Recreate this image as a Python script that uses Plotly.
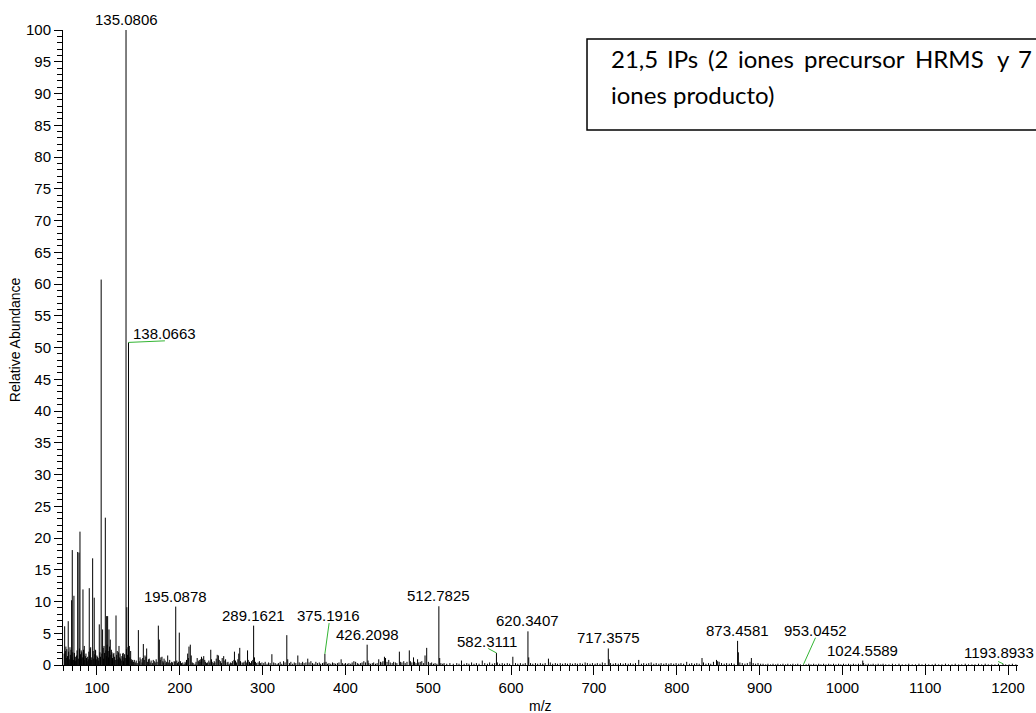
import plotly.graph_objects as go

# ---------------- data ----------------
# labelled / prominent peaks (m/z, relative abundance)
major_mz = [61.0, 62.5, 65.3, 67.4, 69.4, 70.2, 72.2, 73.4, 76.7, 78.3, 79.5, 81.0, 83.1, 84.7,
            86.7, 90.7, 92.4, 94.8, 96.7, 98.4, 100.8, 102.8, 105.07, 106.8, 108.5, 110.1,
            111.7, 112.9, 114.5, 116.1, 118.1, 119.7, 123.0, 124.5, 126.6, 128.6, 131.0,
            132.6, 135.0806, 136.08, 138.0663, 139.1, 140.7, 143.1, 145.1, 150.0, 152.0,
            156.0, 158.0, 160.0, 163.2, 168.0, 174.1, 175.3, 178.5, 181.0, 185.4, 195.0878,
            199.4, 209.5, 211.1, 212.7, 224.4, 227.7, 228.9, 237.4, 246.6, 253.0, 266.0,
            272.4, 281.8, 289.1621, 311.2, 329.2, 342.5, 354.5, 375.1916, 394.8, 426.2098,
            440.2, 447.1, 465.1, 477.1, 482.2, 498.1, 512.7825, 540.1, 565.2, 582.3111,
            602.1, 620.3407, 645.1, 717.3575, 754.1, 830.5, 848.0, 873.4581, 890.1,
            953.0452, 1024.5589, 1193.8933]
major_int = [6.1, 2.9, 6.9, 2.8, 10.2, 18.1, 10.9, 0.6, 17.8, 17.7, 21.0, 2.3, 11.9, 3.0,
             1.8, 12.1, 2.8, 16.8, 10.6, 2.3, 1.3, 6.4, 60.7, 5.6, 3.0, 23.2,
             7.7, 7.7, 5.6, 4.0, 2.0, 1.7, 7.8, 2.2, 3.0, 1.0, 1.8,
             1.2, 100.0, 9.1, 50.8, 3.0, 2.2, 0.8, 0.8, 5.5, 1.2,
             3.3, 1.5, 2.6, 1.0, 0.8, 6.2, 4.0, 1.3, 1.0, 1.5, 9.2,
             5.1, 1.8, 2.9, 3.2, 0.5, 1.0, 1.4, 2.4, 1.5, 1.4, 2.1,
             2.7, 2.3, 6.2, 1.7, 4.7, 1.5, 1.0, 1.75, 0.9, 3.2,
             0.9, 1.3, 2.1, 2.3, 1.2, 2.7, 9.25, 0.7, 0.7, 1.9,
             1.3, 5.3, 1.0, 2.6, 0.8, 1.1, 0.8, 3.8, 1.1,
             0.1, 0.7, 0.2]

# low-level peaks forming the baseline forest
minor_mz = [60.4, 61.8, 62.9, 63.6, 64.5, 65.8, 66.6, 67.9, 68.7, 69.9, 70.8, 71.5, 72.8, 73.9,
            74.6, 75.4, 75.9, 77.5, 78.9, 80.2, 80.8, 81.6, 82.3, 83.7, 84.2, 85.3, 85.9, 87.4,
            88.1, 88.8, 89.6, 90.2, 91.3, 91.8, 93.1, 93.7, 95.4, 96.1, 97.4, 98.0, 99.2, 99.9,
            101.5, 102.1, 103.6, 104.3, 105.9, 107.5, 108.0, 109.2, 110.8, 111.3, 112.3, 113.6,
            114.0, 115.2, 116.8, 117.4, 118.8, 119.2, 120.4, 121.3, 122.1, 123.8, 125.3, 125.9,
            127.4, 128.0, 129.3, 130.1, 131.7, 132.0, 133.4, 134.2, 135.6, 136.9, 137.4, 139.8,
            141.5, 142.2, 144.0,
            146.3, 147.4, 148.6, 151.1, 153.2, 154.4, 155.2, 157.1, 159.1, 161.2, 162.1, 164.3,
            165.4, 166.9, 169.2, 170.3, 171.5, 172.6, 176.4, 177.2, 179.6, 180.1, 182.3, 183.4,
            184.2, 186.6, 187.8, 189.1, 190.2, 191.3, 193.2, 194.1, 196.4, 197.2, 198.3, 200.9,
            202.1, 203.6, 205.2, 206.4, 207.3, 208.1, 210.3, 213.8, 215.1, 216.2, 218.4, 219.6,
            221.0, 222.4, 223.5, 225.3, 226.2, 230.1, 231.2, 232.3, 233.6, 235.1, 236.2, 238.3,
            239.1, 240.4, 241.6, 242.5, 244.0, 245.2, 247.6, 249.3, 250.4, 251.2, 254.4, 255.3,
            257.1, 258.2, 259.6, 261.1, 262.2, 263.5, 265.4, 267.3, 268.4, 270.1, 271.2, 273.3,
            275.2, 276.4, 277.5, 279.1, 280.3, 282.6, 284.2, 285.3, 286.6, 288.1, 290.2, 291.3,
            292.4, 294.5, 296.1, 297.3, 299.2, 301.4, 303.1, 305.3, 307.2, 309.1, 313.4, 315.2,
            317.5, 319.3, 321.2, 323.1, 325.3, 327.1, 330.3, 332.4, 334.1, 336.3, 338.2, 340.1,
            344.2, 346.4, 348.3, 350.1, 352.3, 356.1, 358.3, 360.2, 362.1, 364.3, 366.2, 368.4,
            370.1, 372.3, 374.2, 376.6, 378.4, 380.1, 382.3, 384.4, 386.2, 388.1, 390.3, 392.2,
            396.3, 398.4, 400.1, 402.3, 404.2, 406.4, 408.1, 410.2, 412.3, 414.4, 416.1, 418.3,
            420.1, 422.2, 424.3, 427.3, 428.3, 430.2, 432.4, 434.1, 436.3, 438.2, 442.3, 444.1,
            445.3, 448.4, 450.2, 452.3, 454.1, 456.4, 458.2, 460.3, 462.1, 466.3, 468.2, 470.4,
            472.1, 474.3, 478.4, 480.2, 483.5, 485.2, 487.1, 488.5, 490.3, 492.2, 494.4, 496.1,
            500.2, 502.3, 504.1, 506.3, 508.2, 510.4, 513.8, 515.2, 517.4, 519.1,
            522.3, 526.1, 530.2, 534.4, 537.1, 543.3, 546.5, 549.1, 552.3, 555.2, 558.1, 561.3,
            568.2, 571.4, 574.1, 577.3, 580.2, 583.4, 586.2, 589.3, 592.1, 595.4, 598.2, 605.3,
            608.1, 611.2, 614.4, 617.1, 621.3, 623.5, 626.2, 629.4, 632.1, 635.3, 638.2, 641.1,
            647.3, 650.2, 653.4, 656.1, 659.3, 662.2, 665.4, 668.1, 671.3, 674.2, 677.4, 680.1,
            683.3, 686.2, 689.4, 692.1, 695.3, 698.2, 701.4, 704.1, 707.3, 710.2, 713.4, 718.4,
            720.1, 723.3, 726.2, 729.4, 732.1, 735.3, 738.2, 741.4, 744.1, 747.3, 750.2, 757.3,
            760.1, 763.4, 766.2, 769.1, 772.3, 775.2, 778.4, 781.1, 784.3, 787.2, 790.4, 793.1,
            796.3, 799.2, 802.4, 805.1, 808.3, 812.0, 815.3, 818.1, 821.4, 824.2, 827.1, 832.3,
            835.2, 838.4, 841.1, 844.3, 849.4, 851.2, 854.1, 857.3, 860.2, 863.4, 866.1, 869.3,
            874.4, 876.2, 879.1, 882.3, 885.2, 888.4, 892.3, 895.2, 898.1, 901.3, 904.2, 907.4,
            910.1, 913.3, 916.2, 919.4, 922.1, 925.3, 928.2, 931.4, 934.1, 937.3, 940.2, 943.4,
            946.1, 949.3, 956.2, 959.4, 962.1, 965.3, 968.2, 971.4, 974.1, 977.3, 980.2, 983.4,
            986.1, 989.3, 992.2, 995.4, 998.1, 1001.3, 1004.2, 1007.4, 1010.1, 1013.3, 1016.2,
            1019.4, 1022.1, 1025.6, 1028.3, 1031.2, 1034.4, 1037.1, 1040.3, 1043.2, 1046.4,
            1049.1, 1052.3, 1056.2, 1060.4, 1064.1, 1068.3, 1072.2, 1076.4, 1080.1, 1084.3,
            1088.2, 1092.4, 1096.1, 1100.3, 1104.2, 1108.4, 1112.1, 1116.3, 1120.2, 1124.4,
            1128.1, 1132.3, 1136.2, 1140.4, 1144.1, 1148.3, 1152.2, 1156.4, 1160.1, 1164.3,
            1168.2, 1172.4, 1176.1, 1180.3, 1184.2, 1188.4, 1197.1, 1201.3, 1205.2, 1209.4]
minor_int = [1.8, 2.2, 1.1, 2.5, 1.4, 2.1, 0.9, 1.6, 2.4, 1.2, 2.0, 0.8, 1.9, 1.3,
             0.7, 1.5, 2.3, 1.0, 2.6, 1.7, 0.9, 2.0, 1.2, 2.4, 1.6, 0.8, 1.4, 1.1,
             0.6, 1.3, 0.9, 2.1, 1.5, 2.6, 1.2, 0.8, 2.2, 1.0, 1.7, 2.4, 0.9, 1.5,
             1.1, 0.7, 2.0, 1.3, 1.8, 2.7, 1.0, 1.9, 2.3, 1.4, 3.2, 2.2,
             1.2, 2.9, 1.6, 2.4, 1.1, 0.7, 1.9, 1.3, 0.8, 1.6, 0.9, 2.0,
             1.2, 1.8, 0.7, 1.4, 1.9, 0.6, 1.7, 1.1, 2.5, 1.6, 2.8, 1.2,
             0.9, 0.6, 0.5,
             0.4, 0.7, 0.3, 0.6, 0.9, 0.4, 1.1, 0.8, 1.3, 0.5, 0.9, 0.4,
             0.7, 0.3, 0.6, 0.4, 0.9, 0.5, 0.8, 1.2, 0.6, 0.4, 0.7, 0.3,
             0.5, 0.4, 0.8, 0.3, 0.5, 0.4, 0.6, 0.5, 0.7, 0.3, 0.5, 0.6,
             0.3, 0.4, 0.2, 0.5, 0.3, 0.8, 1.1, 1.5, 0.4, 0.3, 0.2, 0.5,
             1.1, 0.6, 0.8, 0.9, 1.3, 0.8, 0.5, 0.3, 0.4, 0.7, 0.4, 0.9,
             0.5, 0.3, 0.6, 0.4, 1.0, 1.6, 0.8, 0.6, 0.3, 1.1, 0.7, 0.9,
             0.4, 0.5, 0.2, 0.4, 0.3, 0.6, 0.8, 0.7, 0.4, 0.9, 1.8, 0.6,
             0.4, 0.3, 0.5, 0.7, 0.4, 0.8, 0.5, 0.3, 0.6, 0.8, 1.2, 0.5,
             0.3, 0.4, 0.6, 0.3, 0.4, 0.3, 0.5, 0.2, 0.4, 0.3, 0.4, 0.3,
             0.2, 0.3, 0.5, 0.2, 0.6, 0.4, 0.9, 0.3, 0.5, 0.2, 0.4, 0.3,
             0.4, 0.3, 0.5, 0.3, 0.4, 0.4, 0.6, 0.3, 0.2, 0.5, 0.3, 0.4,
             0.2, 0.3, 0.4, 0.5, 0.2, 0.3, 0.2, 0.4, 0.3, 0.2, 0.3, 0.4,
             0.3, 0.2, 0.3, 0.2, 0.3, 0.2, 0.4, 0.6, 0.5, 0.3, 0.2, 0.3,
             0.4, 0.6, 0.4, 0.7, 0.3, 0.2, 0.3, 0.4, 0.2, 0.3, 0.5, 0.4,
             0.6, 1.1, 0.5, 0.8, 0.4, 0.3, 0.5, 0.4, 0.3, 0.5, 0.4, 0.6,
             0.3, 0.5, 0.6, 0.4, 0.5, 0.3, 0.9, 0.4, 0.5, 0.6, 0.3, 1.5,
             0.5, 0.3, 0.4, 0.2, 0.3, 0.2, 1.1, 0.3, 0.2, 0.3,
             0.2, 0.3, 0.2, 0.3, 0.2, 0.2, 0.3, 0.2, 0.4, 0.2, 0.3, 0.2,
             0.3, 0.2, 0.4, 0.2, 0.3, 0.4, 0.2, 0.3, 0.2, 0.3, 0.2, 0.3,
             0.2, 0.3, 0.2, 0.3, 1.2, 0.3, 0.2, 0.3, 0.2, 0.3, 0.2, 0.3,
             0.4, 0.2, 0.3, 0.2, 0.3, 0.2, 0.3, 0.2, 0.3, 0.2, 0.3, 0.2,
             0.3, 0.2, 0.4, 0.3, 0.2, 0.3, 0.2, 0.3, 0.2, 0.4, 0.3, 0.9,
             0.3, 0.2, 0.3, 0.2, 0.3, 0.2, 0.3, 0.2, 0.3, 0.2, 0.3, 0.2,
             0.3, 0.2, 0.3, 0.4, 0.2, 0.3, 0.2, 0.3, 0.2, 0.3, 0.2, 0.3,
             0.2, 0.3, 0.2, 0.3, 0.2, 0.5, 0.2, 0.3, 0.2, 0.3, 0.2, 0.4,
             0.2, 0.3, 0.2, 0.5, 0.6, 0.5, 0.3, 0.2, 0.3, 0.2, 0.3, 0.2,
             2.0, 0.4, 0.3, 0.2, 0.3, 0.5, 0.3, 0.2, 0.3, 0.2, 0.2, 0.1,
             0.2, 0.1, 0.2, 0.1, 0.2, 0.1, 0.2, 0.1, 0.2, 0.1, 0.2, 0.1,
             0.2, 0.1, 0.1, 0.2, 0.1, 0.2, 0.1, 0.2, 0.1, 0.2, 0.1, 0.2,
             0.1, 0.2, 0.1, 0.2, 0.1, 0.2, 0.1, 0.2, 0.1, 0.2, 0.1,
             0.2, 0.1, 0.3, 0.1, 0.2, 0.1, 0.2, 0.1, 0.2, 0.1,
             0.2, 0.1, 0.1, 0.2, 0.1, 0.2, 0.1, 0.1, 0.2, 0.1,
             0.1, 0.2, 0.1, 0.2, 0.1, 0.1, 0.2, 0.1, 0.1, 0.2,
             0.1, 0.1, 0.2, 0.1, 0.1, 0.2, 0.1, 0.1, 0.1, 0.2,
             0.1, 0.2, 0.1, 0.1, 0.1, 0.2, 0.1, 0.1, 0.2, 0.1]

# peak labels
label_mz = [135.0806, 138.0663, 195.0878, 289.1621, 375.1916, 426.2098, 512.7825,
            582.3111, 620.3407, 717.3575, 873.4581, 953.0452, 1024.5589, 1193.8933]
label_int = [100.0, 50.8, 9.2, 6.2, 1.75, 3.2, 9.25, 1.9, 5.3, 2.6, 3.8, 0.1, 0.7, 0.2]
label_text = ["135.0806", "138.0663", "195.0878", "289.1621", "375.1916", "426.2098",
              "512.7825", "582.3111", "620.3407", "717.3575", "873.4581", "953.0452",
              "1024.5589", "1193.8933"]

box_line1_words = ["21,5", "IPs", "(2", "iones", "precursor", "HRMS", "y", "7"]
box_line2 = "iones producto)"

# ---------------- layout config ----------------
# label index -> (label centre m/z, label bottom intensity, leader end m/z, leader end intensity)
leader_cfg = {
    1: (182.0, 50.6, 182.0, 51.05),
    4: (379.7, 6.2, 380.3, 6.6),
    7: (571.2, 2.1, 572.4, 2.6),
    11: (967.5, 3.85, 967.5, 4.3),
    13: (1189.2, 0.25, 1188.0, 0.55),
}
# justified first line of the box: left edge of each word (pixels)
word_left_px = [609, 665, 706, 736, 802, 913, 995, 1016]
PLOT_L, PLOT_W = 63, 955
box_font = dict(family="Lato, Carlito, Calibri, sans-serif", size=24, color="black")

# ---------------- build figure ----------------
xs, ys = [], []
for m, h in zip(minor_mz + major_mz, minor_int + major_int):
    xs += [m, m, None]
    ys += [0, h, None]

fig = go.Figure()
fig.add_trace(go.Scatter(x=xs, y=ys, mode="lines",
                         line=dict(color="black", width=1),
                         hoverinfo="skip", showlegend=False))

font_main = "Liberation Sans, Arial, sans-serif"
annotations = []
shapes = []
for i, (m, h, t) in enumerate(zip(label_mz, label_int, label_text)):
    if i in leader_cfg:
        lx, ly, ex, ey = leader_cfg[i]
        annotations.append(dict(x=lx, y=ly, xref="x", yref="y", text=t, showarrow=False,
                                xanchor="center", yanchor="bottom",
                                font=dict(family=font_main, size=15, color="black")))
        shapes.append(dict(type="line", xref="x", yref="y", x0=m, y0=h, x1=ex, y1=ey,
                           line=dict(color="#33b533", width=1)))
    else:
        annotations.append(dict(x=m, y=h, xref="x", yref="y", text=t, showarrow=False,
                                xanchor="center", yanchor="bottom",
                                font=dict(family=font_main, size=15, color="black")))

# text box
shapes.append(dict(type="rect", xref="paper", yref="paper", x0=0.5487, x1=1.04,
                   y0=0.8426, y1=0.9858, line=dict(color="black", width=1.5),
                   fillcolor="white", layer="above"))
for w, px in zip(box_line1_words, word_left_px):
    annotations.append(dict(x=(px - PLOT_L) / PLOT_W, y=0.955, xref="paper", yref="paper",
                            text=w, showarrow=False, xanchor="left", yanchor="middle",
                            font=box_font))
annotations.append(dict(x=(609 - PLOT_L) / PLOT_W, y=0.898, xref="paper", yref="paper",
                        text=box_line2, showarrow=False, xanchor="left", yanchor="middle",
                        font=box_font))

# axis titles
annotations.append(dict(x=-0.05, y=0.512, xref="paper", yref="paper", text="Relative Abundance",
                        textangle=-90, showarrow=False, xanchor="center", yanchor="middle",
                        font=dict(family=font_main, size=14, color="black")))
annotations.append(dict(x=0.5005, y=-0.0653, xref="paper", yref="paper", text="m/z",
                        showarrow=False, xanchor="center", yanchor="middle",
                        font=dict(family=font_main, size=14, color="black")))

fig.update_layout(
    width=1036, height=713, autosize=False,
    margin=dict(l=63, r=18, t=30, b=48, pad=0),
    paper_bgcolor="white", plot_bgcolor="white",
    showlegend=False,
    annotations=annotations, shapes=shapes,
    xaxis=dict(range=[59, 1212], showgrid=False, zeroline=False,
               showline=True, linecolor="black", linewidth=1,
               ticks="outside", ticklen=9, tickwidth=1, tickcolor="black",
               tick0=0, dtick=100,
               minor=dict(dtick=10, tick0=0, ticks="outside", ticklen=5, tickwidth=1,
                          tickcolor="black", showgrid=False),
               tickfont=dict(family=font_main, size=15, color="black")),
    yaxis=dict(range=[0, 100], showgrid=False, zeroline=False,
               showline=True, linecolor="black", linewidth=1,
               ticks="outside", ticklen=8, tickwidth=1, tickcolor="black",
               tick0=0, dtick=5,
               minor=dict(dtick=1, tick0=0, ticks="outside", ticklen=5, tickwidth=1,
                          tickcolor="black", showgrid=False),
               tickfont=dict(family=font_main, size=15, color="black")),
)

fig.write_html("out.html")
